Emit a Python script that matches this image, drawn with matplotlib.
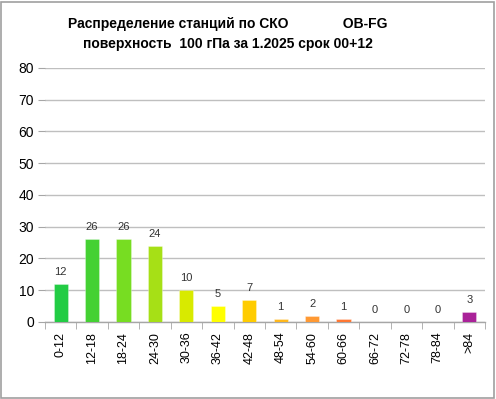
import matplotlib
matplotlib.use("Agg")
import matplotlib.pyplot as plt
from matplotlib.patches import Rectangle

categories = ["0-12", "12-18", "18-24", "24-30", "30-36", "36-42", "42-48",
              "48-54", "54-60", "60-66", "66-72", "72-78", "78-84", ">84"]
values = [12, 26, 26, 24, 10, 5, 7, 1, 2, 1, 0, 0, 0, 3]
colors = ["#22CC44", "#44D133", "#77DD22", "#A6E016", "#D8EA00", "#FFFF00",
          "#FFCC00", "#FFB81C", "#FF9933", "#FF7733", "#FF6633", "#FF5533",
          "#EE4444", "#AA2299"]
title = "Распределение станций по СКО              OB-FG\nповерхность  100 гПа за 1.2025 срок 00+12"

plt.rcParams['font.family'] = ['Liberation Sans', 'DejaVu Sans']

fig = plt.figure(figsize=(4.96, 3.99), dpi=100)
fig.patches.append(Rectangle((0.002, 0.003), 0.994, 0.993, transform=fig.transFigure,
                             fill=False, edgecolor="#A0A0A0", linewidth=1.2))
ax = fig.add_axes([0.0907, 0.193, 0.887, 0.637])

x = range(len(categories))
bars = ax.bar(x, values, width=0.45, color=colors, linewidth=0.6, zorder=3)
for b in bars:
    b.set_edgecolor((1, 1, 1, 0.35))
for i, v in enumerate(values):
    ax.text(i, v + 2.2, str(v), ha="center", va="bottom", fontsize=8, color="#333333")

ax.set_xlim(-0.5, len(categories) - 0.5)
ax.set_ylim(0, 80)
ax.set_yticks(range(0, 81, 10))
ax.yaxis.grid(True, color="#BFBFBF", linewidth=1.0, zorder=0)
ax.set_axisbelow(True)
for s in ["top", "right", "left"]:
    ax.spines[s].set_visible(False)
ax.spines["bottom"].set_color("#A6A6A6")
ax.spines["bottom"].set_linewidth(1.0)
ax.tick_params(axis="y", length=5, color="#A6A6A6", labelsize=10, pad=3)
ax.set_xticks(x)
ax.set_xticklabels(categories, rotation=90, fontsize=9)
ax.tick_params(axis="x", length=0, pad=7)
ax.set_xticks([i + 0.5 for i in range(-1, len(categories))], minor=True)
ax.tick_params(axis="x", which="minor", length=5, color="#A6A6A6")

fig.text(0.46, 0.915, title, ha="center", va="center", fontsize=10,
         fontweight="bold", linespacing=1.5)

fig.savefig("out.png", dpi=100)
